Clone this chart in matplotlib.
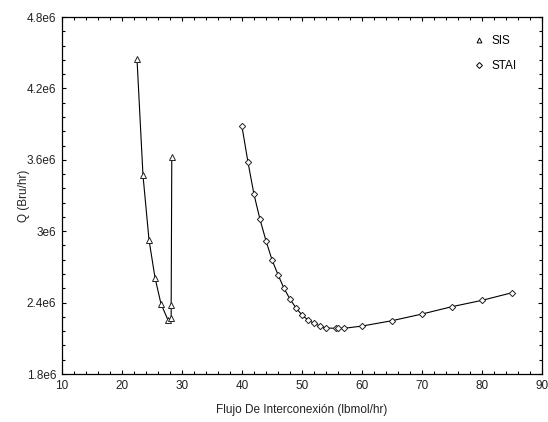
import matplotlib
matplotlib.use("Agg")
import matplotlib.pyplot as plt
from matplotlib.lines import Line2D
from matplotlib.ticker import MultipleLocator, FuncFormatter

plt.rcParams['font.family'] = ['Liberation Sans', 'DejaVu Sans']

# SIS series
sis_x = [22.5, 23.5, 24.5, 25.5, 26.5, 27.7, 28.2, 28.2, 28.3]
sis_q = [4.45e6, 3.47e6, 2.93e6, 2.61e6, 2.39e6, 2.25e6, 2.27e6, 2.38e6, 3.62e6]

# STAI series
stai_x = [40, 41, 42, 43, 44, 45, 46, 47, 48, 49, 50, 51, 52, 53, 54,
          55.6, 56, 57, 60, 65, 70, 75, 80, 85]
stai_q = [3.88e6, 3.58e6, 3.31e6, 3.10e6, 2.92e6, 2.76e6, 2.635e6, 2.52e6,
          2.43e6, 2.355e6, 2.296e6, 2.254e6, 2.226e6, 2.203e6, 2.187e6,
          2.184e6, 2.184e6, 2.184e6, 2.203e6, 2.248e6, 2.304e6, 2.366e6,
          2.419e6, 2.483e6]

x_ticks = [10, 20, 30, 40, 50, 60, 70, 80, 90]
y_ticks = [1.8e6, 2.4e6, 3e6, 3.6e6, 4.2e6, 4.8e6]


def fmt_q(v, pos):
    s = f"{v / 1e6:.1f}".rstrip('0').rstrip('.')
    return s + "e6"


fig = plt.figure(figsize=(5.48, 4.22), dpi=100)
ax = fig.add_axes([0.1131, 0.1137, 0.8759, 0.846])

ax.plot(sis_x, sis_q, color='black', lw=0.8, marker='^', ms=4,
        mfc='white', mec='#222222', mew=0.7)
ax.plot(stai_x, stai_q, color='black', lw=0.8, marker='D', ms=3.2,
        mfc='white', mec='#222222', mew=0.7)

ax.set_xlim(10, 90)
ax.set_ylim(1.8e6, 4.8e6)
ax.set_xticks(x_ticks)
ax.set_yticks(y_ticks)
ax.xaxis.set_minor_locator(MultipleLocator(2))
ax.yaxis.set_minor_locator(MultipleLocator(0.12e6))
ax.yaxis.set_major_formatter(FuncFormatter(fmt_q))
ax.tick_params(which='both', direction='in', top=True, right=True,
               labelsize=8.5, width=0.8, pad=4, labelcolor='#222222')
ax.tick_params(which='major', length=3)
ax.tick_params(which='minor', length=2.5)
for sp in ax.spines.values():
    sp.set_linewidth(0.9)

ax.set_xlabel('Flujo De Interconexión (lbmol/hr)', fontsize=8.5, labelpad=9,
              color='#222222')
ax.set_ylabel('Q (Bru/hr)', fontsize=8.5, labelpad=-2, color='#222222')

handles = [
    Line2D([], [], ls='none', marker='^', ms=3.5, mfc='white', mec='black', mew=0.7),
    Line2D([], [], ls='none', marker='D', ms=3, mfc='white', mec='black', mew=0.7),
]
ax.legend(handles, ['SIS', 'STAI'], loc='upper right', frameon=False,
          fontsize=8.5, handlelength=1, handletextpad=0.6, labelspacing=1.1,
          bbox_to_anchor=(0.97, 0.98))

fig.savefig('out.png', dpi=100)
